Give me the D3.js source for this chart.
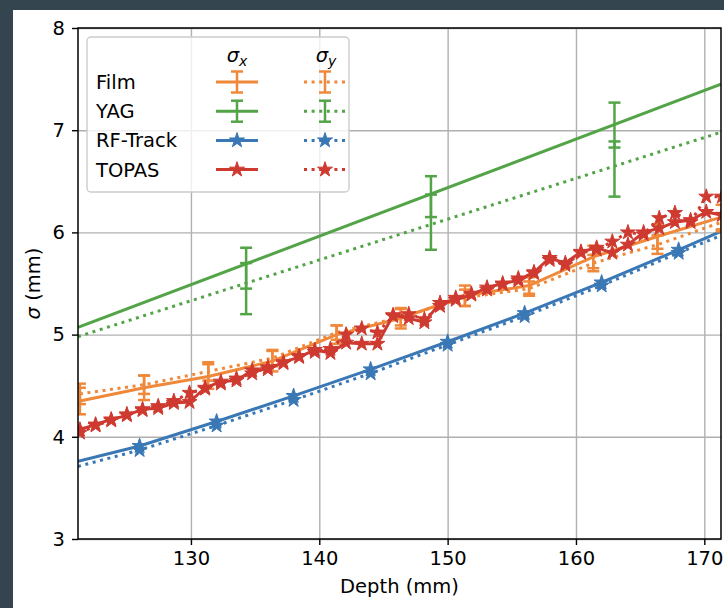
<!DOCTYPE html>
<html>
<head>
<meta charset="utf-8">
<script src="https://cdn.jsdelivr.net/npm/d3@7"></script>
<style>
  body { margin: 0; background: #34454f; }
  text { font-family: "DejaVu Sans", sans-serif; }
</style>
</head>
<body>
<div class="chart"></div>
<script>
// --- data ---
var xTicks = [130, 140, 150, 160, 170];
var yTicks = [3, 4, 5, 6, 7, 8];

var filmDepth = [121.35, 126.35, 131.35, 136.35, 141.35, 146.35, 151.35, 156.35, 161.35, 166.35, 171.35];
var filmSx    = [4.35, 4.48, 4.59, 4.74, 5.00, 5.16, 5.38, 5.48, 5.76, 5.96, 6.15];
var filmSxErr = [0.13, 0.12, 0.12, 0.10, 0.09, 0.10, 0.10, 0.08, 0.11, 0.12, 0.12];
var filmSy    = [4.42, 4.51, 4.64, 4.77, 5.02, 5.17, 5.36, 5.45, 5.70, 5.88, 6.10];
var filmSyErr = [0.10, 0.09, 0.09, 0.08, 0.07, 0.08, 0.08, 0.07, 0.08, 0.09, 0.09];

var yagDepth = [134.3, 148.7, 163.0];
var yagSx    = [5.65, 6.35, 7.05];
var yagSxErr = [0.20, 0.20, 0.22];
var yagSy    = [5.45, 6.10, 6.62];
var yagSyErr = [0.25, 0.27, 0.27];
var yagFitDepth = [121.2, 171.3];
var yagFitSx = [5.07, 7.45];
var yagFitSy = [4.98, 6.98];

var rfDepth = [121.2, 126, 132, 138, 144, 150, 156, 162, 168, 171.3];
var rfSx    = [3.76, 3.91, 4.15, 4.40, 4.66, 4.93, 5.21, 5.51, 5.83, 6.01];
var rfSy    = [3.71, 3.87, 4.11, 4.36, 4.62, 4.90, 5.18, 5.48, 5.80, 5.97];
var rfMarked = [126, 132, 138, 144, 150, 156, 162, 168];

var topasDepth = [121.35, 122.57, 123.79, 125.01, 126.23, 127.45, 128.67, 129.89, 131.11, 132.33,
  133.55, 134.77, 135.99, 137.21, 138.43, 139.65, 140.87, 142.09, 143.31, 144.53,
  145.75, 146.97, 148.19, 149.41, 150.63, 151.85, 153.07, 154.29, 155.51, 156.73,
  157.95, 159.17, 160.39, 161.61, 162.83, 164.05, 165.27, 166.49, 167.71, 168.93,
  170.15, 171.37];
var topasSx = [4.07, 4.12, 4.17, 4.21, 4.27, 4.28, 4.33, 4.34, 4.48, 4.54,
  4.55, 4.65, 4.66, 4.73, 4.78, 4.85, 4.82, 4.92, 4.91, 4.91,
  5.19, 5.16, 5.12, 5.31, 5.34, 5.39, 5.46, 5.50, 5.53, 5.61,
  5.75, 5.70, 5.81, 5.85, 5.80, 5.88, 6.00, 6.04, 6.10, 6.12,
  6.20, 6.17];
var topasSy = [4.04, 4.11, 4.16, 4.22, 4.26, 4.30, 4.35, 4.43, 4.47, 4.52,
  4.57, 4.62, 4.68, 4.72, 4.79, 4.83, 4.86, 5.00, 5.06, 5.02,
  5.18, 5.20, 5.15, 5.28, 5.36, 5.40, 5.44, 5.49, 5.55, 5.60,
  5.73, 5.68, 5.80, 5.83, 5.91, 6.00, 5.98, 6.14, 6.19, 6.10,
  6.35, 6.35];

var colors = { film: '#f0883a', yag: '#52a447', rf: '#3a78b5', topas: '#cf3a30' };

// --- layout ---
var width = 724, height = 608;
var pLeft = 78, pRight = 721, pTop = 28, pBottom = 539;
var fs = 19.5;
var lw = 3;

var svg = d3.select('.chart').append('svg')
  .attr('width', width)
  .attr('height', height);

// white figure patch
svg.append('rect')
  .attr('x', 13).attr('y', 10)
  .attr('width', width - 13).attr('height', height - 10)
  .attr('fill', 'white');

var x = d3.scaleLinear().domain([121.2, 171.3]).range([pLeft, pRight]);
var y = d3.scaleLinear().domain([3, 8]).range([pBottom, pTop]);

// grid
svg.append('g')
  .attr('transform', 'translate(0,' + pBottom + ')')
  .call(d3.axisBottom(x).tickValues(xTicks).tickSize(-(pBottom - pTop)).tickFormat(''))
  .call(function (g) {
    g.select('.domain').remove();
    g.selectAll('line').attr('stroke', '#b0b0b0').attr('stroke-width', 1.4);
  });
svg.append('g')
  .attr('transform', 'translate(' + pLeft + ',0)')
  .call(d3.axisLeft(y).tickValues(yTicks).tickSize(-(pRight - pLeft)).tickFormat(''))
  .call(function (g) {
    g.select('.domain').remove();
    g.selectAll('line').attr('stroke', '#b0b0b0').attr('stroke-width', 1.4);
  });

// clip for data
svg.append('clipPath').attr('id', 'clip')
  .append('rect')
  .attr('x', pLeft).attr('y', pTop)
  .attr('width', pRight - pLeft).attr('height', pBottom - pTop);

var plot = svg.append('g').attr('clip-path', 'url(#clip)');

var dotted = '3,4.6';

function drawLine(xs, vs, color, dash) {
  var pts = xs.map(function (d, i) { return [d, vs[i]]; });
  plot.append('path')
    .datum(pts)
    .attr('fill', 'none')
    .attr('stroke', color)
    .attr('stroke-width', lw)
    .attr('stroke-dasharray', dash || null)
    .attr('d', d3.line().x(function (d) { return x(d[0]); }).y(function (d) { return y(d[1]); }));
}

function drawErrors(xs, vs, errs, color) {
  xs.forEach(function (d, i) {
    var cx = x(d), y0 = y(vs[i] - errs[i]), y1 = y(vs[i] + errs[i]);
    var g = plot.append('g').attr('stroke', color).attr('stroke-width', 2.5);
    g.append('line').attr('x1', cx).attr('x2', cx).attr('y1', y0).attr('y2', y1);
    g.append('line').attr('x1', cx - 6).attr('x2', cx + 6).attr('y1', y0).attr('y2', y0);
    g.append('line').attr('x1', cx - 6).attr('x2', cx + 6).attr('y1', y1).attr('y2', y1);
  });
}

var star = d3.symbol().type(d3.symbolStar).size(70);

function drawStars(xs, vs, color, keep) {
  xs.forEach(function (d, i) {
    if (keep && keep.indexOf(d) < 0) return;
    plot.append('path')
      .attr('d', star())
      .attr('transform', 'translate(' + x(d) + ',' + y(vs[i]) + ')')
      .attr('fill', color)
      .attr('stroke', color)
      .attr('stroke-width', 1);
  });
}

// YAG
drawLine(yagFitDepth, yagFitSx, colors.yag);
drawLine(yagFitDepth, yagFitSy, colors.yag, dotted);
drawErrors(yagDepth, yagSx, yagSxErr, colors.yag);
drawErrors(yagDepth, yagSy, yagSyErr, colors.yag);

// RF-Track
drawLine(rfDepth, rfSx, colors.rf);
drawLine(rfDepth, rfSy, colors.rf, dotted);
drawStars(rfDepth, rfSy, colors.rf, rfMarked);
drawStars(rfDepth, rfSx, colors.rf, rfMarked);

// Film
drawLine(filmDepth, filmSx, colors.film);
drawLine(filmDepth, filmSy, colors.film, dotted);
drawErrors(filmDepth, filmSx, filmSxErr, colors.film);
drawErrors(filmDepth, filmSy, filmSyErr, colors.film);

// TOPAS
drawLine(topasDepth, topasSy, colors.topas, dotted);
drawStars(topasDepth, topasSy, colors.topas);
drawLine(topasDepth, topasSx, colors.topas);
drawStars(topasDepth, topasSx, colors.topas);

// axes
svg.append('g')
  .attr('transform', 'translate(0,' + pBottom + ')')
  .call(d3.axisBottom(x).tickValues(xTicks).tickSize(6).tickPadding(6).tickSizeOuter(0))
  .call(function (g) {
    g.select('.domain').remove();
    g.selectAll('line').attr('stroke', 'black').attr('stroke-width', 1.4);
    g.selectAll('text').attr('font-size', fs).attr('fill', 'black')
      .style('font-family', '"DejaVu Sans", sans-serif');
  });
svg.append('g')
  .attr('transform', 'translate(' + pLeft + ',0)')
  .call(d3.axisLeft(y).tickValues(yTicks).tickSize(6).tickPadding(7).tickFormat(d3.format('d')))
  .call(function (g) {
    g.select('.domain').remove();
    g.selectAll('line').attr('stroke', 'black').attr('stroke-width', 1.4);
    g.selectAll('text').attr('font-size', fs).attr('fill', 'black')
      .style('font-family', '"DejaVu Sans", sans-serif');
  });

svg.append('rect')
  .attr('x', pLeft).attr('y', pTop)
  .attr('width', pRight - pLeft).attr('height', pBottom - pTop)
  .attr('fill', 'none')
  .attr('stroke', 'black')
  .attr('stroke-width', 1.5);

svg.append('text')
  .attr('x', (pLeft + pRight) / 2).attr('y', 593)
  .attr('text-anchor', 'middle')
  .attr('font-size', fs)
  .text('Depth (mm)');

var yl = svg.append('text')
  .attr('transform', 'translate(40,' + ((pTop + pBottom) / 2) + ')rotate(-90)')
  .attr('text-anchor', 'middle')
  .attr('font-size', fs);
yl.append('tspan').attr('font-style', 'italic').text('σ');
yl.append('tspan').text(' (mm)');

// legend
var leg = svg.append('g');
leg.append('rect')
  .attr('x', 87).attr('y', 37)
  .attr('width', 262).attr('height', 155)
  .attr('rx', 4)
  .attr('fill', 'white').attr('fill-opacity', 0.8)
  .attr('stroke', '#cccccc').attr('stroke-width', 1.4);

var headers = [{ x: 237, sub: 'x' }, { x: 326, sub: 'y' }];
headers.forEach(function (h) {
  var t = leg.append('text')
    .attr('x', h.x).attr('y', 62)
    .attr('text-anchor', 'middle')
    .attr('font-size', fs);
  t.append('tspan').attr('font-style', 'italic').text('σ');
  t.append('tspan').attr('font-style', 'italic').attr('font-size', 14).attr('dy', 4).text(h.sub);
});

var legRows = [
  { name: 'Film', color: colors.film, kind: 'err' },
  { name: 'YAG', color: colors.yag, kind: 'err' },
  { name: 'RF-Track', color: colors.rf, kind: 'star' },
  { name: 'TOPAS', color: colors.topas, kind: 'star' }
];
legRows.forEach(function (r, i) {
  var cy = 82 + i * 29.2;
  leg.append('text')
    .attr('x', 96).attr('y', cy + 7)
    .attr('font-size', fs)
    .text(r.name);
  [{ x0: 216, dash: null }, { x0: 304, dash: dotted }].forEach(function (hd) {
    var cx = hd.x0 + 21;
    leg.append('line')
      .attr('x1', hd.x0).attr('x2', hd.x0 + 42)
      .attr('y1', cy).attr('y2', cy)
      .attr('stroke', r.color).attr('stroke-width', lw)
      .attr('stroke-dasharray', hd.dash);
    if (r.kind === 'err') {
      var g = leg.append('g').attr('stroke', r.color).attr('stroke-width', 2.5);
      g.append('line').attr('x1', cx).attr('x2', cx).attr('y1', cy - 10.5).attr('y2', cy + 10.5);
      g.append('line').attr('x1', cx - 6).attr('x2', cx + 6).attr('y1', cy - 10.5).attr('y2', cy - 10.5);
      g.append('line').attr('x1', cx - 6).attr('x2', cx + 6).attr('y1', cy + 10.5).attr('y2', cy + 10.5);
    } else {
      leg.append('path')
        .attr('d', star())
        .attr('transform', 'translate(' + cx + ',' + cy + ')')
        .attr('fill', r.color).attr('stroke', r.color).attr('stroke-width', 1);
    }
  });
});
</script>
</body>
</html>
